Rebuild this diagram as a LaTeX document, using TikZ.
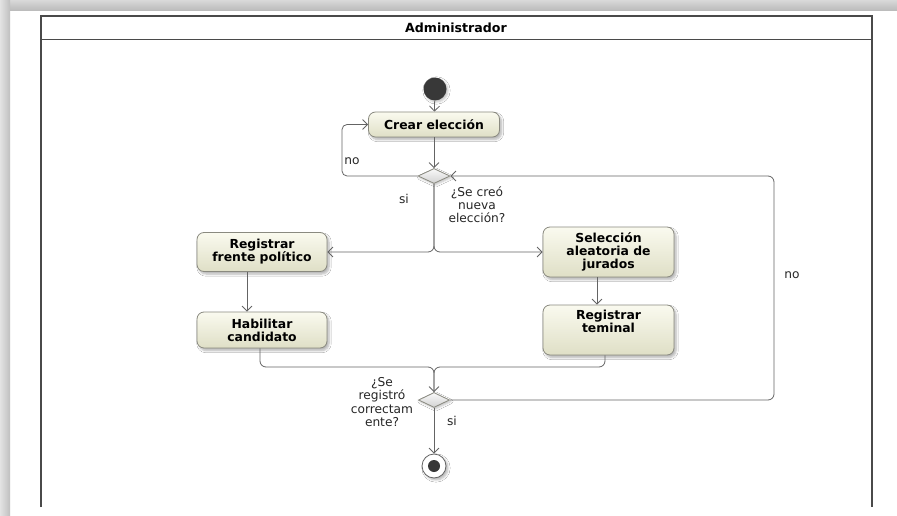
\documentclass[tikz,border=0pt]{standalone}
\usepackage{fontspec}
\setmainfont{DejaVu Sans}
\usetikzlibrary{arrows.meta,shapes.geometric,shadows.blur}

\definecolor{flow}{HTML}{646464}
\definecolor{boxline}{HTML}{8A8A80}
\definecolor{boxtop}{HTML}{FAFAEF}
\definecolor{boxbot}{HTML}{DFDFC6}
\definecolor{lane}{HTML}{4A4A4A}
\definecolor{inkdark}{HTML}{383838}

\tikzset{
  action/.style={draw=boxline, line width=0.8pt, rounded corners=7pt,
    top color=boxtop, bottom color=boxbot, inner sep=0pt, align=center,
    font=\bfseries\fontsize{12.4}{13}\selectfont,
    blur shadow={shadow xshift=2pt, shadow yshift=-2.5pt, shadow blur steps=6, shadow opacity=30}},
  boxtext/.style={font=\bfseries\fontsize{12.4}{13}\selectfont, align=center, inner sep=0pt},
  decision/.style={diamond, draw=boxline, line width=0.8pt, inner sep=0pt,
    top color=white!95!gray, bottom color=gray!35,
    blur shadow={shadow xshift=1.5pt, shadow yshift=-1.5pt, shadow blur steps=4, shadow opacity=25}},
  guard/.style={font=\fontsize{12.2}{13.2}\selectfont, align=center, inner sep=0pt, text=black!85},
  flowarrow/.style={draw=flow, line width=0.8pt, -{Straight Barb[length=5pt,width=10pt]}},
  flowline/.style={draw=flow, line width=0.8pt},
  laneline/.style={draw=lane, line width=1.8pt}
}

\begin{document}
\begin{tikzpicture}[x=1pt,y=-1pt]
\useasboundingbox (0,0) rectangle (897,516);

% page frame with its grey edge
\fill[white] (0,0) rectangle (897,516);
\fill[top color=gray!30, bottom color=gray!55] (0,0) rectangle (897,11);
\fill[left color=gray!22, right color=gray!50] (0,0) rectangle (10,516);

% swimlane
\draw[laneline] (41,507) -- (41,16) -- (872,16) -- (872,507);
\draw[laneline] (41,39.5) -- (872,39.5);
\node[font=\bfseries\fontsize{12.6}{13}\selectfont, inner sep=0pt] (lanetitle) at (456,28) {Administrador};

% start and final nodes
\node[circle, fill=inkdark, minimum size=23pt, inner sep=0pt,
  blur shadow={shadow xshift=1.5pt, shadow yshift=-1.5pt, shadow blur steps=4, shadow opacity=25}] (start) at (435,89) {};
\node[circle, draw=flow, line width=0.8pt, fill=white, minimum size=24pt, inner sep=0pt,
  blur shadow={shadow xshift=2pt, shadow yshift=-2pt, shadow blur steps=5, shadow opacity=30}] (fin) at (434,466) {};
\node[circle, fill=inkdark, minimum size=12pt, inner sep=0pt] (findot) at (fin.center) {};

% actions
\node[action, minimum width=131pt, minimum height=25pt] (crear) at (434,124.5) {Crear elección};
\node[action, minimum width=130pt, minimum height=39pt] (frente) at (262,252) {Registrar\\frente político};
\node[action, minimum width=130pt, minimum height=36pt] (habilitar) at (262,330) {Habilitar\\candidato};
\node[action, minimum width=131pt, minimum height=50pt] (seleccion) at (608.5,252) {Selección\\aleatoria de\\jurados};
\node[action, minimum width=131pt, minimum height=50pt] (teminal) at (608.5,330) {};
\node[boxtext] (teminaltext) at ([yshift=9pt]teminal.center) {Registrar\\teminal};

% decisions
\node[decision, minimum width=32pt, minimum height=15pt] (d1) at (434,176) {};
\node[decision, minimum width=31pt, minimum height=15pt] (d2) at (434,400) {};

% flows
\draw[flowarrow] (start) -- (crear);
\draw[flowarrow] (crear) -- (d1);
\draw[flowarrow, rounded corners=5pt] (d1.west) -- (342,176) -- (342,124.5) -- (crear.west);
\draw[flowarrow, rounded corners=6pt] (d1.south) |- (frente.east);
\draw[flowarrow, rounded corners=6pt] (d1.south) |- (seleccion.west);
\draw[flowarrow] ([xshift=-15pt]frente.south) -- ([xshift=-15pt]habilitar.north);
\draw[flowarrow] ([xshift=-11.5pt]seleccion.south) -- ([xshift=-11.5pt]teminal.north);

\coordinate (merge) at (434,367);
\draw[flowline, rounded corners=6pt] ([xshift=-3.5pt]teminal.south) |- (merge) -- (d2.north);
\draw[flowarrow, rounded corners=6pt] ([xshift=-2pt]habilitar.south) |- (merge) -- (d2.north);
\draw[flowarrow, rounded corners=6pt] (d2.east) -- (774,400) -- (774,176) -- (d1.east);
\draw[flowarrow] (d2.south) -- (fin);

% guards
\node[guard] (noloop) at (352,161) {no};
\node[guard] (sicreo) at (404,199) {si};
\node[guard] (q1) at (477,205) {¿Se creó\\nueva\\elección?};
\node[guard] (noback) at (792,275) {no};
\node[guard] (q2) at (382,402) {¿Se\\registró\\correctam\\ente?};
\node[guard] (siend) at (452,421) {si};
\end{tikzpicture}
\end{document}
